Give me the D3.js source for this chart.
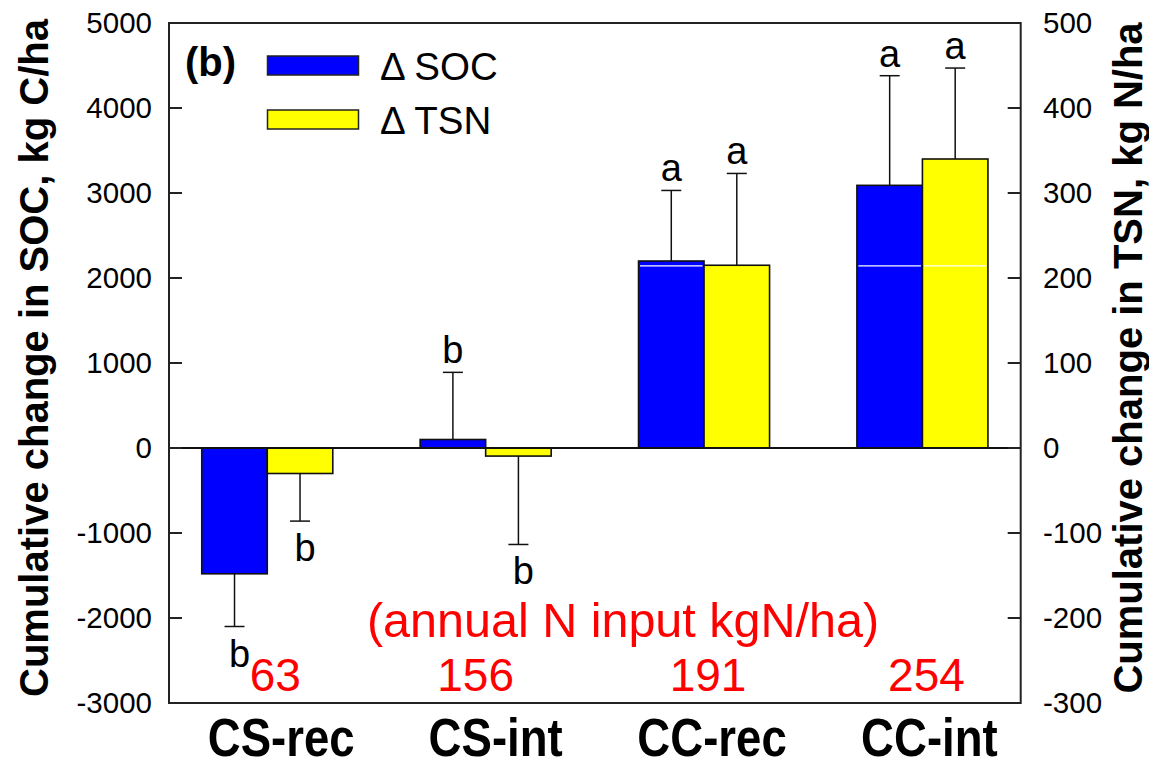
<!DOCTYPE html>
<html>
<head>
<meta charset="utf-8">
<script src="https://cdn.jsdelivr.net/npm/d3@7"></script>
<style>
  html, body { margin: 0; padding: 0; background: #fff; }
  svg { display: block; }
  text { font-family: "Liberation Sans", Arial, sans-serif; }
</style>
</head>
<body>
<svg id="chart" width="1149" height="761"></svg>
<script>
// ---- data ----
const categories = ["CS-rec", "CS-int", "CC-rec", "CC-int"];
const socValues = [-1480, 100, 2200, 3090];      // kg C/ha (left axis)
const socErrors = [620, 790, 830, 1290];
const tsnValues = [-30, -9.5, 215, 340];         // kg N/ha (right axis)
const tsnErrors = [56, 104, 108, 107];
const socLetters = ["b", "b", "a", "a"];
const tsnLetters = ["b", "b", "a", "a"];
const nInputs = ["63", "156", "191", "254"];
const leftTicks = [-3000, -2000, -1000, 0, 1000, 2000, 3000, 4000, 5000];
const rightTicks = [-300, -200, -100, 0, 100, 200, 300, 400, 500];
const seriesNames = ["\u0394 SOC", "\u0394 TSN"];
const seriesColors = ["#0000ff", "#ffff00"];

// ---- layout ----
const L = 169, R = 1020.7, T = 23, B = 703;
const svg = d3.select("#chart");

const x = d3.scaleLinear().domain([-0.45, 3.45]).range([L, R]);
const yL = d3.scaleLinear().domain([-3000, 5000]).range([B, T]);
const yR = d3.scaleLinear().domain([-300, 500]).range([B, T]);
const barW = x(0.3) - x(0);

const series = [
  { vals: socValues, errs: socErrors, letters: socLetters, y: yL, color: seriesColors[0], off: -0.15 },
  { vals: tsnValues, errs: tsnErrors, letters: tsnLetters, y: yR, color: seriesColors[1], off: 0.15 }
];

// bars
series.forEach(s => {
  svg.append("g").selectAll("rect").data(s.vals).join("rect")
    .attr("x", (d, i) => x(i + s.off) - barW / 2)
    .attr("width", barW)
    .attr("y", d => Math.min(s.y(d), s.y(0)))
    .attr("height", d => Math.abs(s.y(d) - s.y(0)))
    .attr("fill", s.color)
    .attr("stroke", "#111")
    .attr("stroke-width", 1.6);
});

// faint white line across CC bars (at CC-rec TSN level)
const wy = yR(tsnValues[2]) + 0.6;
[[2, -0.15], [3, -0.15], [3, 0.15]].forEach(([i, o]) => {
  svg.append("line")
    .attr("x1", x(i + o) - barW / 2 + 1.5).attr("x2", x(i + o) + barW / 2 - 1.5)
    .attr("y1", wy).attr("y2", wy)
    .attr("stroke", "#fff").attr("stroke-width", 1.2);
});

// error bars + letters
series.forEach(s => {
  s.vals.forEach((v, i) => {
    const cx = x(i + s.off);
    const sign = v >= 0 ? 1 : -1;
    const endV = v + sign * s.errs[i];
    const y0 = s.y(v), y1 = s.y(endV);
    const g = svg.append("g").attr("stroke", "#111").attr("stroke-width", 1.5);
    g.append("line").attr("x1", cx).attr("x2", cx).attr("y1", y0).attr("y2", y1);
    g.append("line").attr("x1", cx - 10).attr("x2", cx + 10).attr("y1", y1).attr("y2", y1);
    svg.append("text")
      .attr("x", cx + (sign < 0 ? 5 : 0))
      .attr("y", sign > 0 ? y1 - 9 : y1 + 40)
      .attr("text-anchor", "middle")
      .attr("font-size", 38)
      .attr("fill", "#000")
      .text(s.letters[i]);
  });
});

// zero line
svg.append("line").attr("x1", L).attr("x2", R).attr("y1", yL(0)).attr("y2", yL(0))
  .attr("stroke", "#111").attr("stroke-width", 2);

// frame
svg.append("rect").attr("x", L).attr("y", T).attr("width", R - L).attr("height", B - T)
  .attr("fill", "none").attr("stroke", "#222").attr("stroke-width", 2);

// left axis ticks (inward) and labels
const lt = svg.append("g");
lt.selectAll("line").data(leftTicks).join("line")
  .attr("x1", L).attr("x2", L + 13).attr("y1", d => yL(d)).attr("y2", d => yL(d))
  .attr("stroke", "#222").attr("stroke-width", 2);
lt.selectAll("text").data(leftTicks).join("text")
  .attr("x", 152).attr("y", d => yL(d)).attr("dy", "0.35em")
  .attr("text-anchor", "end").attr("font-size", 29.5).text(d => d);

// right axis ticks (inward) and labels
const rt = svg.append("g");
rt.selectAll("line").data(rightTicks).join("line")
  .attr("x1", R - 13).attr("x2", R).attr("y1", d => yR(d)).attr("y2", d => yR(d))
  .attr("stroke", "#222").attr("stroke-width", 2);
rt.selectAll("text").data(rightTicks).join("text")
  .attr("x", 1043).attr("y", d => yR(d)).attr("dy", "0.35em")
  .attr("text-anchor", "start").attr("font-size", 29.5).text(d => d);

// axis titles
svg.append("text")
  .attr("transform", "translate(48,358) rotate(-90)")
  .attr("text-anchor", "middle").attr("font-size", 40).attr("font-weight", "bold")
  .text("Cumulative change in SOC, kg C/ha");
svg.append("text")
  .attr("transform", "translate(1142,358) rotate(-90)")
  .attr("text-anchor", "middle").attr("font-size", 40).attr("font-weight", "bold")
  .text("Cumulative change in TSN, kg N/ha");

// category labels (tall, slightly condensed bold)
const catDx = [14, 10, 8, 7];
svg.append("g").selectAll("text").data(categories).join("text")
  .attr("transform", (d, i) => `translate(${x(i) + catDx[i]},756) scale(0.86,1)`)
  .attr("text-anchor", "middle").attr("font-size", 53).attr("font-weight", "bold")
  .text(d => d);

// annual N input annotation
svg.append("text").attr("x", 623).attr("y", 637).attr("text-anchor", "middle")
  .attr("font-size", 48.5).attr("fill", "#ff0000").text("(annual N input kgN/ha)");
const nDx = [8, -10, 4, 4];
svg.append("g").selectAll("text").data(nInputs).join("text")
  .attr("x", (d, i) => x(i) + nDx[i]).attr("y", 691)
  .attr("text-anchor", "middle").attr("font-size", 46).attr("fill", "#ff0000")
  .text(d => d);

// panel label
svg.append("text").attr("x", 185).attr("y", 76).attr("font-size", 40)
  .attr("font-weight", "bold").text("(b)");

// legend
seriesNames.forEach((name, i) => {
  const ly = 56 + i * 54;
  svg.append("rect").attr("x", 267.5).attr("y", ly).attr("width", 91).attr("height", 19)
    .attr("fill", seriesColors[i]).attr("stroke", "#222").attr("stroke-width", 1.5);
  svg.append("text").attr("x", 380).attr("y", ly + 24).attr("font-size", 38.5).text(name);
});
</script>
</body>
</html>
